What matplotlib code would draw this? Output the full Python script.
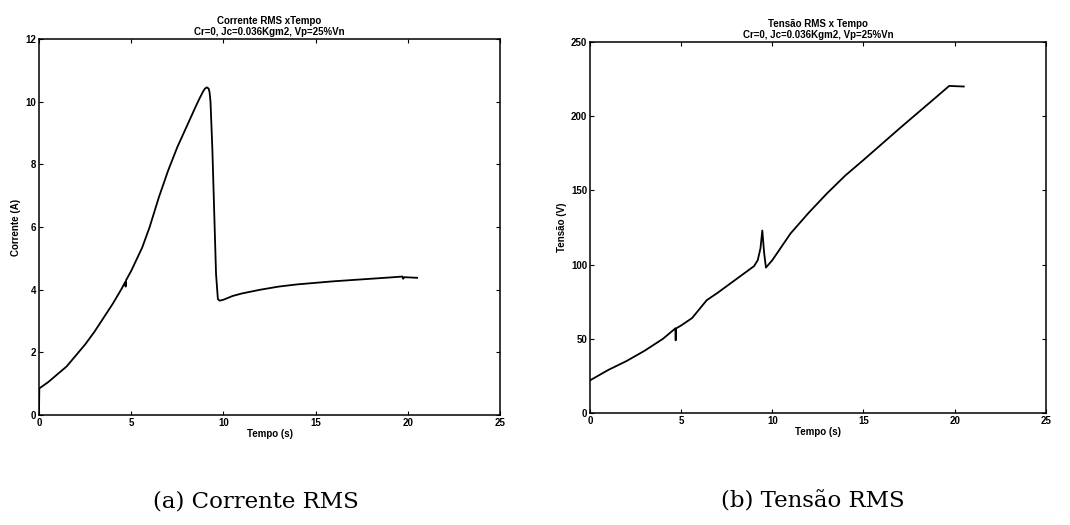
import numpy as np
import matplotlib.pyplot as plt

plt.rcParams['font.family'] = ['Liberation Sans', 'DejaVu Sans']

# corrente RMS (A) x tempo (s)
t_i = [0.0, 0.02, 0.5, 1.0, 1.5, 2.0, 2.5, 3.0, 3.5, 4.0, 4.5, 4.68, 4.7, 4.72, 5.0, 5.6,
       6.0, 6.5, 7.0, 7.5, 8.0, 8.5, 8.7, 8.9, 9.0, 9.1, 9.2, 9.25, 9.3, 9.4, 9.5, 9.6, 9.7, 9.8,
       10.0, 10.5, 11.0, 12.0, 13.0, 14.0, 15.0, 16.0, 17.0, 18.0, 19.0, 19.7, 19.75, 19.8, 20.5]
corrente = [0.0, 0.85, 1.05, 1.3, 1.55, 1.9, 2.25, 2.65, 3.1, 3.55, 4.05, 4.25, 4.1, 4.3, 4.6, 5.35,
            6.0, 6.95, 7.8, 8.55, 9.2, 9.85, 10.1, 10.33, 10.42, 10.46, 10.42, 10.3, 10.0, 8.5, 6.5, 4.5, 3.7, 3.65,
            3.68, 3.8, 3.88, 4.0, 4.1, 4.17, 4.22, 4.27, 4.31, 4.35, 4.39, 4.42, 4.35, 4.4, 4.38]

# tensao RMS (V) x tempo (s)
t_v = [0.0, 1.0, 2.0, 3.0, 4.0, 4.68, 4.7, 4.72, 5.0, 5.6, 6.4, 7.0, 8.0, 9.0, 9.2, 9.35,
       9.45, 9.55, 9.65, 10.0, 11.0, 12.0, 13.0, 14.0, 15.0, 17.0, 19.0, 19.7, 20.5]
tensao = [22, 29, 35, 42, 50, 57, 49, 57, 59, 64, 76, 81, 90, 99, 103, 111,
          123, 108, 98, 103, 121, 135, 148, 160, 170.5, 192, 213, 220.4, 220]

titulo_i = 'Corrente RMS xTempo\nCr=0, Jc=0.036Kgm2, Vp=25%Vn'
titulo_v = 'Tensão RMS x Tempo\nCr=0, Jc=0.036Kgm2, Vp=25%Vn'

fig = plt.figure(figsize=(10.7, 5.25), dpi=100)
ax1 = fig.add_axes([0.0364, 0.2095, 0.431, 0.716])
ax2 = fig.add_axes([0.5514, 0.2133, 0.426, 0.7067])

fs = 7
for ax, t, y, tit, yl, ylim, yt in [
        (ax1, t_i, corrente, titulo_i, 'Corrente (A)', 12, range(0, 13, 2)),
        (ax2, t_v, tensao, titulo_v, 'Tensão (V)', 250, range(0, 251, 50))]:
    ax.plot(t, y, color='black', lw=1.3)
    ax.set_xlim(0, 25)
    ax.set_ylim(0, ylim)
    ax.set_xticks(range(0, 26, 5))
    ax.set_yticks(list(yt))
    ax.tick_params(direction='in', top=True, right=True, labelsize=fs, length=3, pad=2)
    for lab in ax.get_xticklabels() + ax.get_yticklabels():
        lab.set_fontweight('bold')
    ax.set_title(tit, fontsize=fs, pad=3, linespacing=1.1, fontweight='bold')
    ax.set_xlabel('Tempo (s)', fontsize=fs, labelpad=1, fontweight='bold')
    ax.set_ylabel(yl, fontsize=fs, labelpad=3, fontweight='bold')
    for s in ax.spines.values():
        s.set_linewidth(1.1)

fig.text(0.239, 0.045, '(a) Corrente RMS', fontsize=16.5, family='DejaVu Serif', ha='center', va='center')
fig.text(0.760, 0.045, '(b) Tensão RMS', fontsize=16.5, family='DejaVu Serif', ha='center', va='center')

fig.savefig('out.png', dpi=100)
